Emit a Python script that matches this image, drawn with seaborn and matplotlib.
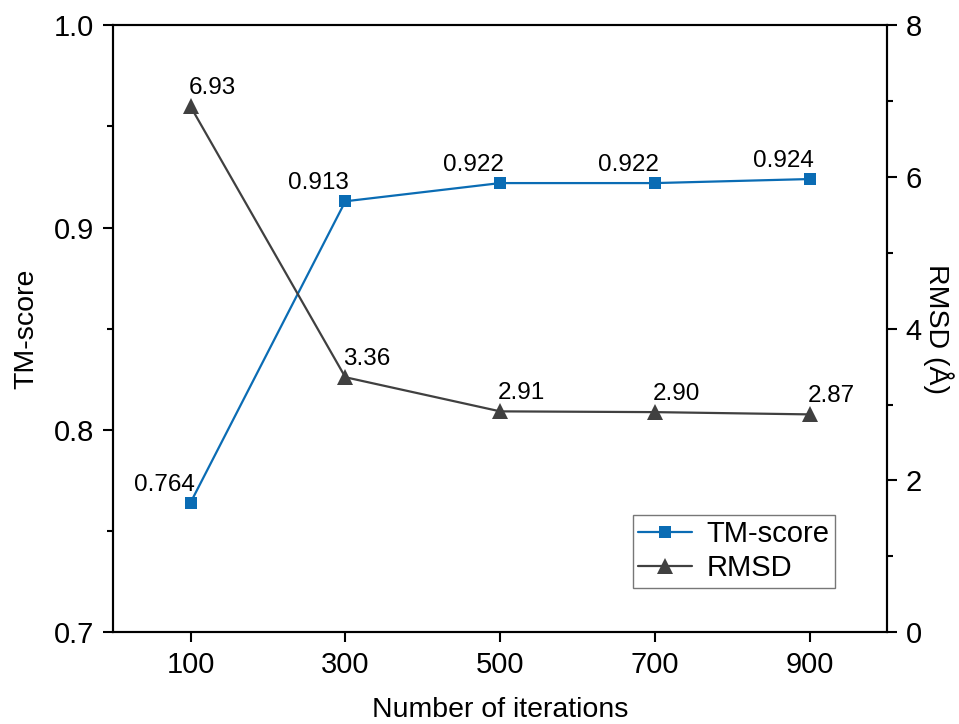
import numpy as np
import pandas as pd
import matplotlib
matplotlib.use('Agg')
import matplotlib.pyplot as plt
from matplotlib.ticker import MultipleLocator, FormatStrFormatter
import seaborn as sns

# Dados
iterations = [100, 300, 500, 700, 900]
tm_score = [0.764, 0.913, 0.922, 0.922, 0.924]
rmsd = [6.93, 3.36, 2.91, 2.90, 2.87]
tm_labels = ['0.764', '0.913', '0.922', '0.922', '0.924']
rmsd_labels = ['6.93', '3.36', '2.91', '2.90', '2.87']

sns.set_style('ticks', rc={'text.color': 'black', 'axes.labelcolor': 'black',
                           'xtick.color': 'black', 'ytick.color': 'black'})
plt.rcParams['font.family'] = ['Liberation Sans', 'DejaVu Sans']

blue = '#0a6cb4'
gray = '#404040'

df = pd.DataFrame({'iter': iterations, 'tm': tm_score, 'rmsd': rmsd})

fig = plt.figure(figsize=(9.59, 7.24), dpi=100)
ax = fig.add_axes([0.118, 0.127, 0.807, 0.838])
ax2 = ax.twinx()

sns.lineplot(data=df, x='iter', y='tm', ax=ax, color=blue, marker='s', markersize=9,
             markeredgewidth=0, linewidth=1.6, label='TM-score', legend=False)
sns.lineplot(data=df, x='iter', y='rmsd', ax=ax2, color=gray, marker='^', markersize=11,
             markeredgewidth=0, linewidth=1.6, label='RMSD', legend=False)

# rótulos de valores: TM à esquerda do ponto, RMSD à direita
for x, y, t in zip(iterations, tm_score, tm_labels):
    ax.annotate(t, (x, y), xytext=(4, 18), textcoords='offset pixels',
                ha='right', va='center', fontsize=17.5)
for x, y, t in zip(iterations, rmsd, rmsd_labels):
    ax2.annotate(t, (x, y), xytext=(-2, 18), textcoords='offset pixels',
                 ha='left', va='center', fontsize=17.5)

ax.set_xlim(0, 1000)
ax.set_ylim(0.7, 1.0)
ax2.set_ylim(0, 8)
ax.set_xticks(iterations)
ax.yaxis.set_major_locator(MultipleLocator(0.1))
ax.yaxis.set_minor_locator(MultipleLocator(0.05))
ax2.yaxis.set_major_locator(MultipleLocator(2))
ax2.yaxis.set_minor_locator(MultipleLocator(1))
ax.yaxis.set_major_formatter(FormatStrFormatter('%.1f'))

ax.set_xlabel('Number of iterations', fontsize=20.5, va='center')
ax.set_ylabel('TM-score', fontsize=20.5, va='center')
ax2.set_ylabel('RMSD (Å)', fontsize=20.5, rotation=270, va='center')
ax.xaxis.set_label_coords(0.5, -0.1285)
ax.yaxis.set_label_coords(-0.1124, 0.5)
ax2.yaxis.set_label_coords(1.066, 0.5)

for a in (ax, ax2):
    for s in a.spines.values():
        s.set_linewidth(1.5)
        s.set_color('black')
    a.tick_params(which='major', length=7, width=1.5, labelsize=21, direction='out', pad=6.5)
    a.tick_params(which='minor', length=4, width=1.5, direction='out')
ax.tick_params(axis='x', pad=7)

h1, l1 = ax.get_legend_handles_labels()
h2, l2 = ax2.get_legend_handles_labels()
leg = ax2.legend(h1 + h2, l1 + l2, loc='lower right', bbox_to_anchor=(0.933, 0.0725),
                 borderaxespad=0, fontsize=21, fancybox=False, edgecolor='#777777',
                 framealpha=1, handlelength=1.85, handletextpad=0.48, borderpad=0.2,
                 labelspacing=0.2)
leg.get_frame().set_linewidth(1.0)

fig.savefig('out.png', dpi=100)
plt.close(fig)
